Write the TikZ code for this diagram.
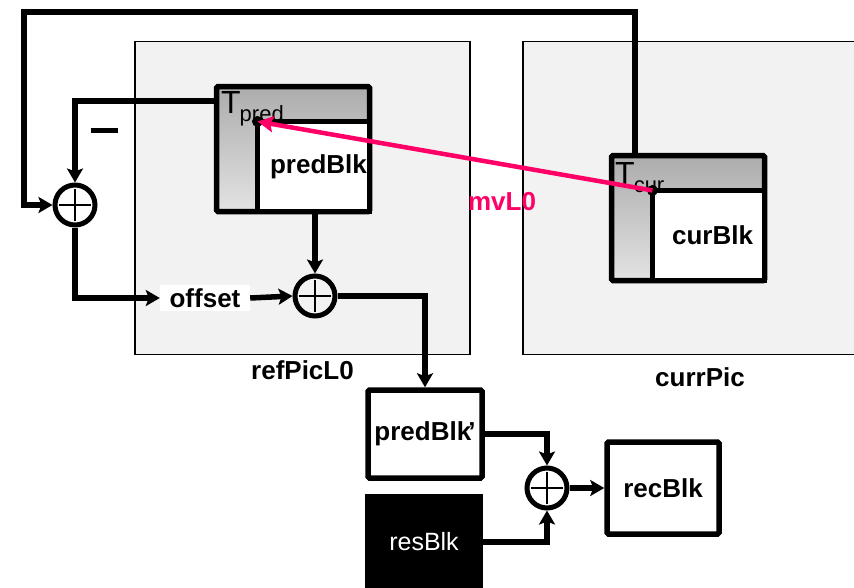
\documentclass[tikz,border=0pt]{standalone}
\usepackage{fontspec}
\setmainfont{Liberation Sans}
\usetikzlibrary{arrows.meta, positioning, calc}
\definecolor{mvpink}{RGB}{255,0,102}
\definecolor{picgray}{RGB}{242,242,242}
\newcommand{\lblfont}{\bfseries\fontsize{26}{26}\selectfont}

\begin{document}
\begin{tikzpicture}[x=1pt, y=-1pt,
      picbox/.style = {draw, line width=1.3pt, fill=picgray,
                       minimum height=313pt, inner sep=0pt},
      frame/.style  = {draw, line width=5.5pt, rounded corners=1.5pt,
                       top color=gray!65, bottom color=gray!22,
                       minimum width=153pt, minimum height=125pt, inner sep=0pt},
      inblk/.style  = {draw, line width=5.5pt, fill=white, anchor=south east,
                       minimum width=112pt, minimum height=90pt, inner sep=0pt,
                       font=\lblfont},
      blk/.style    = {draw, line width=5.5pt, rounded corners=1.5pt, fill=white,
                       minimum width=114pt, minimum height=88pt, inner sep=0pt,
                       font=\lblfont},
      sum/.style    = {circle, draw, line width=5pt, minimum size=40pt, inner sep=0pt,
                       path picture={\draw[line width=2pt]
                         ([xshift=-16pt]path picture bounding box.center) -- ([xshift=16pt]path picture bounding box.center)
                         ([yshift=-16pt]path picture bounding box.center) -- ([yshift=16pt]path picture bounding box.center);}},
      conn/.style   = {line width=5.5pt, -{Stealth[length=14pt, width=16pt, inset=3pt]}},
      caption/.style= {font=\lblfont, inner sep=2pt}
    ]
    \useasboundingbox (0,0) rectangle (854,587);

    % pictures
    \node[picbox, minimum width=335pt] (refpic)  at (302.5,198) {};
    \node[picbox, minimum width=350pt] (currpic) at (698,198)   {};
    \node[caption, below=3pt of refpic] (refcap) {refPicL0};
    \node[caption] (curcap) at (700,377) {currPic};

    % blocks in the pictures
    \node[frame] (predframe) at (293,149) {};
    \node[inblk] (predblk) at (predframe.south east) {\hspace*{10pt}predBlk};
    \node[frame] (curframe) at (688,218) {};
    \node[inblk] (curblk) at (curframe.south east) {\hspace*{8pt}\raisebox{-6pt}{curBlk}};
    \node[font=\fontsize{32}{32}\selectfont, inner sep=0pt, anchor=north west] (tpred) at (221,91)
         {T\kern-1pt\raisebox{-8pt}{\fontsize{22}{22}\selectfont pred}};
    \node[font=\fontsize{32}{32}\selectfont, inner sep=0pt, anchor=north west] (tcur) at (615,162)
         {T\kern-1pt\raisebox{-8pt}{\fontsize{22}{22}\selectfont cur}};
    \fill (predblk.north west) ++(2.7pt,-2.7pt) circle (5.5pt) coordinate (preddot);
    \fill (curblk.north west) ++(2.7pt,-2.7pt) circle (5.5pt) coordinate (curdot);

    % adders
    \node[sum] (sum1) at (75,205)  {};
    \node[sum] (sum2) at (315,296) {};
    \node[sum] (sum3) at (547,488) {};
    \node[fill=white, font=\lblfont, inner sep=3pt, minimum width=90pt] (offset) at (205,298) {offset};
    \node[inner sep=0pt] (minus) at (104,130) {\rule{27pt}{5pt}};

    % blocks below
    \node[blk] (predblkp) at (425,434) {predBlk\kern-3pt’};
    \node[fill=black, text=white, minimum width=118pt, minimum height=96pt,
          inner sep=0pt, font=\fontsize{25}{25}\selectfont] (resblk) at (424,542) {\raisebox{-4pt}{resBlk}};
    \node[blk, minimum width=112pt, minimum height=92pt] (recblk) at (663,488) {recBlk};

    % connectors
    \draw[conn] ([xshift=26pt]curframe.north west) |- (24,12) |- (sum1.west);
    \draw[conn] ([yshift=-17pt]predframe.north west) -| (sum1.north);
    \draw[conn] (sum1.south) |- (offset.west);
    \draw[conn] (offset.east) -- (sum2.west);
    \draw[conn] (sum2.north |- predframe.south) -- (sum2.north);
    \draw[conn] (sum2.east) -| (predblkp.north);
    \draw[conn] (predblkp.east) -| (sum3.north);
    \draw[conn] (resblk.east) -| (sum3.south);
    \draw[conn] (sum3.east) -- (recblk.west);

    % motion vector
    \draw[line width=4.5pt, mvpink, -{Stealth[length=16pt, width=16pt, inset=3pt]}]
         (curdot) -- (preddot);
    \node[font=\lblfont, text=mvpink] (mvlbl) at (502,202) {mvL0};
  \end{tikzpicture}
\end{document}
